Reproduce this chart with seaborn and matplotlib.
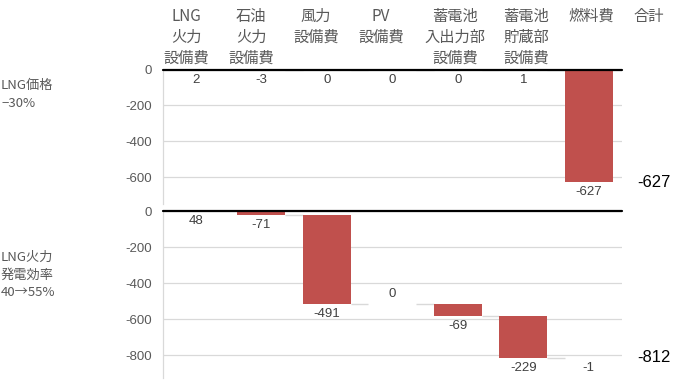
import numpy as np
import pandas as pd
import matplotlib
matplotlib.use("Agg")
import matplotlib.pyplot as plt
import seaborn as sns

# ---- data ----
categories = ["LNG火力設備費", "石油火力設備費", "風力設備費", "PV設備費",
              "蓄電池入出力部設備費", "蓄電池貯蔵部設備費", "燃料費"]
header_labels = ["LNG\n火力\n設備費", "石油\n火力\n設備費", "風力\n設備費", "PV\n設備費",
                 "蓄電池\n入出力部\n設備費", "蓄電池\n貯蔵部\n設備費", "燃料費", "合計"]
case_labels = ["LNG価格\n−30%", "LNG火力\n発電効率\n40→55%"]
delta_price = [2, -3, 0, 0, 0, 1, -627]
delta_eff = [48, -71, -491, 0, -69, -229, -1]
totals = [-627, -812]
yticks_price = [0, -200, -400, -600]
yticks_eff = [0, -200, -400, -600, -800]

# ---- style ----
sns.set_theme(style="white")
plt.rcParams["font.family"] = ["Liberation Sans", "Noto Sans CJK JP", "DejaVu Sans"]
CJK = ["Noto Sans CJK JP", "DejaVu Sans"]
BAR = "#C0504D"
GRID = "#D9D9D9"
TXT = "#595959"
LBL = "#404040"
W = 0.73

W_PX, H_PX = 680, 382
fig = plt.figure(figsize=(W_PX / 100, H_PX / 100), dpi=100)

def fx(px):
    return px / W_PX

def fy(py):
    return 1 - py / H_PX

ax_left, ax_right = 163, 621.5
ax1 = fig.add_axes([fx(ax_left), fy(203.5), fx(ax_right - ax_left), (203.5 - 69.5) / H_PX])
ax2 = fig.add_axes([fx(ax_left), fy(378), fx(ax_right - ax_left), (378 - 211) / H_PX])

panels = [
    (ax1, delta_price, (-745, 0), yticks_price, ["below"] * 7),
    (ax2, delta_eff, (-925, 0), yticks_eff, ["below", "below", "below", "above", "below", "below", "below"]),
]

for k, (ax, deltas, ylim, yticks, lpos) in enumerate(panels):
    d = np.array(deltas, dtype=float)
    ends = np.cumsum(d)
    starts = ends - d
    df = pd.DataFrame({"cat": categories, "delta": d})
    sns.barplot(data=df, x="cat", y="delta", order=categories, color=BAR,
                width=W, errorbar=None, bottom=starts, ax=ax, saturation=1,
                linewidth=0, zorder=3)
    ax.set_ylim(*ylim)
    ax.set_xlim(-0.5, len(categories) - 0.5)
    ax.set_yticks(yticks)
    ax.set_yticklabels([str(t) for t in yticks])
    ax.set_xticks([])
    ax.set_xlabel("")
    ax.set_ylabel("")
    ax.yaxis.grid(True, color=GRID, linewidth=0.9, zorder=0)
    ax.set_axisbelow(True)
    ax.tick_params(axis="y", length=0, pad=8, labelsize=9.5, labelcolor=TXT)
    for s in ["top", "right", "bottom"]:
        ax.spines[s].set_visible(False)
    ax.spines["left"].set_color(GRID)
    ax.spines["left"].set_linewidth(0.9)
    # zero line
    ax.axhline(0, color="black", linewidth=1.6, zorder=5, clip_on=False)
    # connectors
    for i in range(len(d) - 1):
        ax.hlines(ends[i], i + W / 2, i + 1 - W / 2, color=GRID, linewidth=1.0, zorder=2)
    # data labels
    for i, v in enumerate(d):
        lo = min(starts[i], ends[i])
        hi = max(starts[i], ends[i])
        if lpos[i] == "below":
            ax.annotate(f"{int(v)}", (i, lo), xytext=(0, -3), textcoords="offset points",
                        ha="center", va="top", fontsize=9.5, color=LBL, zorder=6)
        else:
            ax.annotate(f"{int(v)}", (i, hi), xytext=(0, 3), textcoords="offset points",
                        ha="center", va="bottom", fontsize=9.5, color=LBL, zorder=6)
    # total
    ax.text(len(categories) + 0.0, totals[k], f"{totals[k]}", ha="center", va="center",
            fontsize=12, color="black", clip_on=False)

# headers
header_x = [186, 251, 316, 381, 455, 526, 591, 649]
for hx, lab in zip(header_x, header_labels):
    fig.text(fx(hx), fy(8), lab, ha="center", va="top", fontsize=11, color=TXT,
             family=CJK, linespacing=1.3)

# case labels
fig.text(fx(1), fy(94.5), case_labels[0], ha="left", va="center", fontsize=9.5,
         color=TXT, family=CJK, linespacing=1.48)
fig.text(fx(1), fy(275), case_labels[1], ha="left", va="center", fontsize=9.5,
         color=TXT, family=CJK, linespacing=1.48)

fig.savefig("out.png", dpi=100)
